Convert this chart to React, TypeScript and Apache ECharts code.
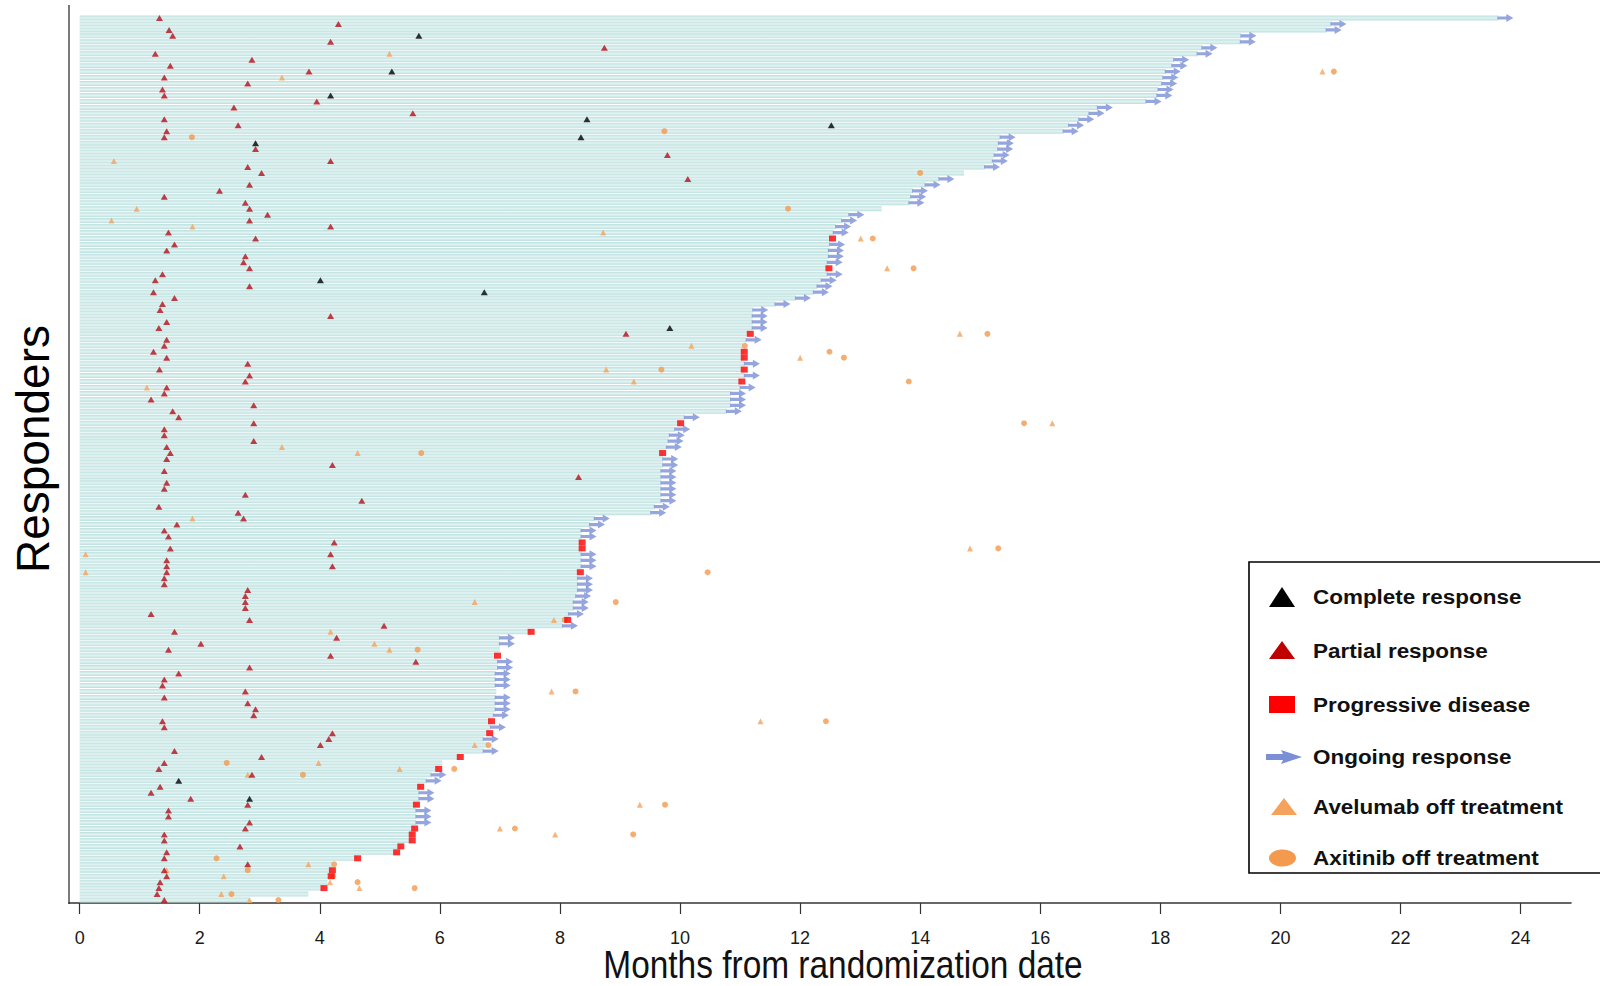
import React, { useEffect, useRef } from "react";
import * as echarts from "echarts";

// ---- DATA ----
const xTicks = [0, 2, 4, 6, 8, 10, 12, 14, 16, 18, 20, 22, 24];

// months of response duration per responder (row 0 = top)
const barEnd = [
  23.63, 20.85, 20.77, 19.35, 19.34, 18.7, 18.62, 18.23, 18.2, 18.09,
  18.05, 18.03, 17.97, 17.95, 17.77, 16.96, 16.82, 16.65, 16.48, 16.39,
  15.34, 15.31, 15.3, 15.24, 15.21, 15.08, 14.73, 14.32, 14.09, 13.88,
  13.85, 13.82, 13.36, 12.82, 12.7, 12.6, 12.56, 12.54, 12.5, 12.48,
  12.48, 12.46, 12.48, 12.46, 12.36, 12.29, 12.23, 11.93, 11.59, 11.22,
  11.21, 11.21, 11.21, 11.17, 11.11, 11.05, 11.07, 11.07, 11.08, 11.07,
  11.08, 11.03, 11.01, 10.85, 10.85, 10.85, 10.78, 10.08, 10.01, 9.92,
  9.83, 9.81, 9.78, 9.71, 9.72, 9.72, 9.69, 9.69, 9.69, 9.69,
  9.69, 9.69, 9.58, 9.52, 8.58, 8.5, 8.36, 8.36, 8.37, 8.37,
  8.36, 8.36, 8.36, 8.34, 8.3, 8.3, 8.3, 8.27, 8.23, 8.23,
  8.15, 8.13, 8.05, 7.52, 7.0, 7.0, 7.0, 6.96, 6.97, 6.97,
  6.93, 6.93, 6.93, 6.94, 6.93, 6.93, 6.93, 6.9, 6.86, 6.85,
  6.83, 6.73, 6.8, 6.73, 6.34, 6.04, 5.98, 5.86, 5.78, 5.68,
  5.66, 5.66, 5.61, 5.61, 5.61, 5.61, 5.58, 5.54, 5.54, 5.35,
  5.28, 4.63, 4.22, 4.21, 4.19, 4.13, 4.07, 3.81, 2.82,
];

// [row, month]
const completeResponse = [
  [3, 5.65], [9, 5.2], [13, 4.18], [17, 8.45], [18, 12.52], [20, 8.35],
  [21, 2.93], [44, 4.01], [46, 6.74], [52, 9.83], [128, 1.65], [131, 2.83],
];

const partialResponse = [
  [0, 1.33], [1, 4.31], [2, 1.49], [3, 1.55], [4, 4.18], [5, 8.74], [6, 1.26], [7, 2.87],
  [8, 1.51], [9, 3.82], [10, 1.41], [11, 2.8], [12, 1.38], [13, 1.41], [14, 3.95], [15, 2.57],
  [16, 5.55], [17, 1.41], [18, 2.64], [19, 1.45], [20, 1.41], [22, 2.93], [23, 9.79], [24, 4.18],
  [25, 2.8], [26, 3.03], [27, 10.13], [28, 2.83], [29, 2.33], [30, 1.41], [31, 2.76], [32, 2.83],
  [33, 3.13], [34, 2.83], [35, 4.18], [36, 1.48], [37, 2.93], [38, 1.58], [39, 1.45], [40, 2.76],
  [41, 2.73], [42, 2.83], [43, 1.38], [44, 1.26], [45, 2.83], [46, 1.23], [47, 1.58], [48, 1.38],
  [49, 1.34], [50, 4.18], [51, 1.45], [52, 1.32], [53, 9.1], [54, 1.45], [55, 1.41], [56, 1.23],
  [57, 1.45], [58, 2.8], [59, 1.33], [60, 2.83], [61, 2.76], [62, 1.45], [63, 1.41], [64, 1.19],
  [65, 2.9], [66, 1.55], [67, 1.65], [68, 2.9], [69, 1.41], [70, 1.41], [71, 2.9], [72, 1.45],
  [73, 1.51], [74, 1.45], [75, 4.21], [76, 1.41], [77, 8.31], [78, 1.45], [79, 1.41], [80, 2.76],
  [81, 4.7], [82, 1.32], [83, 2.64], [84, 2.73], [85, 1.62], [86, 1.41], [87, 1.48], [88, 4.24],
  [89, 1.51], [90, 4.18], [91, 1.45], [92, 1.45], [92, 4.21], [93, 1.45], [94, 1.41], [95, 1.41],
  [96, 2.8], [97, 2.76], [98, 2.76], [99, 2.76], [100, 1.19], [101, 2.83], [102, 5.07], [103, 1.58],
  [104, 4.28], [105, 2.02], [106, 1.48], [107, 4.18], [108, 5.6], [109, 2.83], [110, 1.65], [111, 1.41],
  [112, 1.38], [113, 2.76], [114, 1.41], [115, 2.8], [116, 2.93], [117, 2.9], [118, 1.38], [119, 1.41],
  [120, 4.21], [121, 4.15], [122, 4.01], [123, 1.58], [124, 3.03], [125, 1.41], [126, 1.32], [127, 2.87],
  [129, 1.34], [130, 1.19], [131, 1.85], [132, 2.8], [133, 1.48], [134, 1.48], [135, 2.83], [136, 2.76],
  [137, 1.41], [138, 1.41], [139, 2.67], [140, 1.45], [141, 1.41], [142, 2.8], [143, 1.41], [144, 1.45],
  [145, 1.34], [146, 1.32], [147, 1.29], [148, 1.41],
];

const progressiveDisease = [
  [37, 12.54], [42, 12.48], [53, 11.17], [56, 11.07], [57, 11.07], [59, 11.07], [61, 11.03],
  [68, 10.01], [73, 9.71], [88, 8.37], [89, 8.37], [93, 8.34], [101, 8.13], [103, 7.52],
  [107, 6.96], [118, 6.86], [120, 6.83], [124, 6.34], [126, 5.98], [129, 5.68], [132, 5.61],
  [136, 5.58], [137, 5.54], [138, 5.54], [139, 5.35], [140, 5.28], [141, 4.63], [143, 4.21],
  [144, 4.19], [146, 4.07],
];

// rows whose response is ongoing (arrow at end of bar)
const ongoingRows = [
  0, 1, 2, 3, 4, 5, 6, 7, 8, 9, 10, 11, 12, 13, 14, 15, 16, 17, 18, 19, 20, 21, 22, 23, 24, 25,
  27, 28, 29, 30, 31, 33, 34, 35, 36, 38, 39, 40, 41, 43, 44, 45, 46, 47, 48, 49, 50, 51, 52,
  54, 58, 60, 62, 63, 64, 65, 66, 67, 69, 70, 71, 72, 74, 75, 76, 77, 78, 79, 80, 81, 82, 83,
  84, 85, 86, 87, 90, 91, 92, 94, 95, 96, 97, 98, 99, 100, 102, 104, 105, 108, 109, 110, 111,
  112, 114, 115, 116, 117, 119, 121, 123, 127, 128, 130, 131, 133, 134, 135,
];

const avelumabOff = [
  [6, 5.16], [9, 20.7], [10, 3.37], [24, 0.57], [32, 0.95], [34, 0.53], [35, 1.88], [36, 8.72],
  [37, 13.01], [42, 13.45], [53, 14.66], [55, 10.19], [57, 12.0], [59, 8.77], [61, 9.23],
  [62, 1.12], [68, 16.2], [72, 3.37], [73, 4.63], [84, 1.88], [89, 14.83], [90, 0.1], [93, 0.1],
  [98, 6.58], [101, 7.9], [103, 4.18], [105, 4.91], [106, 5.16], [113, 7.86], [118, 11.34],
  [122, 6.58], [125, 3.98], [126, 5.33], [127, 2.8], [132, 9.33], [136, 7.0], [137, 7.92],
  [142, 3.81], [143, 1.45], [144, 2.4], [145, 4.17], [146, 4.66], [147, 2.36], [148, 2.83],
];

const axitinibOff = [
  [9, 20.89], [19, 9.74], [20, 1.87], [26, 14.0], [32, 11.8], [37, 13.21], [42, 13.89],
  [53, 15.12], [55, 11.08], [56, 12.49], [57, 12.73], [59, 9.69], [61, 13.81], [68, 15.73],
  [73, 5.69], [89, 15.3], [93, 10.46], [98, 8.93], [101, 8.08], [106, 5.63], [113, 8.26],
  [118, 12.43], [122, 6.81], [125, 2.45], [126, 6.24], [127, 3.72], [132, 9.75], [136, 7.25],
  [137, 9.22], [141, 2.28], [142, 4.24], [143, 2.8], [144, 4.22], [145, 4.63], [146, 5.58],
  [147, 2.53], [148, 3.31],
];

const legendLabels = [
  "Complete response",
  "Partial response",
  "Progressive disease",
  "Ongoing response",
  "Avelumab off treatment",
  "Axitinib off treatment",
];

// ---- STYLE ----
const C_CR = "#000000";
const C_PR = "#b3101c";
const C_PD = "#ff0000";
const C_ARROW = "#7b8fd6";
const C_AV = "#f4a25c";
const C_AX = "#f39a4e";
const ARROW_PATH = "path://M0,2.4 L9,2.4 L9,0 L16,4 L9,8 L9,5.6 L0,5.6 Z";
const SANS = "'Liberation Sans', Arial, sans-serif";

const toPts = (arr: number[][]) => arr.map(([r, m]) => [m, r]);

export default function App() {
  const ref = useRef<HTMLDivElement>(null);

  useEffect(() => {
    if (!ref.current) return;
    const chart = echarts.init(ref.current, null, { renderer: "svg" });
    const rows = barEnd.map((_, i) => String(i + 1));

    const legendY = [597, 651, 705, 757, 807, 858];
    const lx = 1282;
    const tx = 1313;

    const legendGraphics: any[] = [
      {
        type: "rect",
        shape: { x: 1249, y: 562, width: 420, height: 311 },
        style: { fill: "#ffffff", stroke: "#000000", lineWidth: 1.6 },
        z: 10,
      },
      {
        type: "polygon",
        shape: { points: [[lx - 13, legendY[0] + 10], [lx, legendY[0] - 10], [lx + 13, legendY[0] + 10]] },
        style: { fill: C_CR },
        z: 11,
      },
      {
        type: "polygon",
        shape: { points: [[lx - 13, legendY[1] + 8], [lx, legendY[1] - 10], [lx + 13, legendY[1] + 8]] },
        style: { fill: "#c00000" },
        z: 11,
      },
      {
        type: "rect",
        shape: { x: lx - 13, y: legendY[2] - 9, width: 26, height: 17 },
        style: { fill: C_PD },
        z: 11,
      },
      {
        type: "polygon",
        shape: {
          points: [
            [lx - 16, legendY[3] - 3], [lx + 1, legendY[3] - 3], [lx - 1, legendY[3] - 7],
            [lx + 20, legendY[3]], [lx - 1, legendY[3] + 7], [lx + 1, legendY[3] + 3],
            [lx - 16, legendY[3] + 3],
          ],
        },
        style: { fill: C_ARROW },
        z: 11,
      },
      {
        type: "polygon",
        shape: { points: [[lx - 11, legendY[4] + 8], [lx + 2, legendY[4] - 9], [lx + 15, legendY[4] + 8]] },
        style: { fill: C_AV },
        z: 11,
      },
      {
        type: "ellipse",
        shape: { cx: lx + 0.5, cy: legendY[5], rx: 13.5, ry: 8.5 },
        style: { fill: C_AX },
        z: 11,
      },
      ...legendLabels.map((t, i) => ({
        type: "text",
        x: tx,
        y: legendY[i],
        scaleX: 1.07,
        style: {
          text: t,
          fill: "#111111",
          font: `bold 21px ${SANS}`,
          textAlign: "left",
          textVerticalAlign: "middle",
          verticalAlign: "middle",
        },
        z: 11,
      })),
    ];

    const option: any = {
      animation: false,
      backgroundColor: "#ffffff",
      grid: { left: 69, right: 29, top: 15, bottom: 83, containLabel: false },
      xAxis: {
        type: "value",
        min: -0.177,
        max: 24.84,
        splitLine: { show: false },
        axisLine: { show: true, lineStyle: { color: "#333333", width: 1.6 } },
        axisTick: {
          show: true,
          inside: false,
          length: 11,
          customValues: xTicks,
          lineStyle: { color: "#333333", width: 1.2 },
        },
        axisLabel: {
          customValues: xTicks,
          margin: 26,
          fontSize: 18,
          fontFamily: SANS,
          color: "#1a1a1a",
        },
      },
      yAxis: {
        type: "category",
        data: rows,
        inverse: true,
        axisLine: { show: false },
        axisTick: { show: false },
        axisLabel: { show: false },
        splitLine: { show: false },
      },
      series: [
        {
          type: "bar",
          data: barEnd,
          barWidth: 5,
          silent: true,
          z: 1,
          itemStyle: {
            color: new echarts.graphic.LinearGradient(0, 0, 0, 1, [
              { offset: 0, color: "#bbe0de" },
              { offset: 0.5, color: "#e2f3f2" },
              { offset: 1, color: "#bbe0de" },
            ]),
          },
        },
        {
          type: "scatter",
          name: "Ongoing response",
          data: ongoingRows.map((r) => [barEnd[r], r]),
          symbol: ARROW_PATH,
          symbolSize: [16, 8],
          symbolOffset: [7, 0],
          itemStyle: { color: C_ARROW },
          z: 3,
          silent: true,
        },
        {
          type: "scatter",
          name: "Axitinib off treatment",
          data: toPts(axitinibOff),
          symbol: "circle",
          symbolSize: 6,
          itemStyle: { color: C_AX },
          z: 4,
          silent: true,
        },
        {
          type: "scatter",
          name: "Avelumab off treatment",
          data: toPts(avelumabOff),
          symbol: "triangle",
          symbolSize: [6, 6],
          itemStyle: { color: C_AV },
          z: 4,
          silent: true,
        },
        {
          type: "scatter",
          name: "Progressive disease",
          data: toPts(progressiveDisease),
          symbol: "rect",
          symbolSize: [7, 6],
          itemStyle: { color: C_PD },
          z: 5,
          silent: true,
        },
        {
          type: "scatter",
          name: "Partial response",
          data: toPts(partialResponse),
          symbol: "triangle",
          symbolSize: [7, 6],
          itemStyle: { color: C_PR },
          z: 5,
          silent: true,
        },
        {
          type: "scatter",
          name: "Complete response",
          data: toPts(completeResponse),
          symbol: "triangle",
          symbolSize: [7, 6],
          itemStyle: { color: C_CR },
          z: 6,
          silent: true,
        },
      ],
      graphic: [
        {
          type: "line",
          shape: { x1: 69, y1: 5, x2: 69, y2: 904 },
          style: { stroke: "#222222", lineWidth: 1.2 },
          z: 5,
        },
        {
          type: "text",
          x: 33,
          y: 449,
          rotation: Math.PI / 2,
          style: {
            text: "Responders",
            fill: "#000000",
            font: `46px ${SANS}`,
            textAlign: "center",
            textVerticalAlign: "middle",
            verticalAlign: "middle",
          },
        },
        {
          type: "text",
          x: 843,
          y: 965,
          scaleX: 0.88,
          style: {
            text: "Months from randomization date",
            fill: "#111111",
            font: `38px ${SANS}`,
            lineHeight: 38,
            textAlign: "center",
            textVerticalAlign: "middle",
            verticalAlign: "middle",
          },
        },
        ...legendGraphics,
      ],
    };

    chart.setOption(option);
    return () => chart.dispose();
  }, []);

  return (
    <div
      ref={ref}
      style={{ position: "fixed", left: 0, top: 0, width: 1600, height: 986, background: "#fff" }}
    />
  );
}
